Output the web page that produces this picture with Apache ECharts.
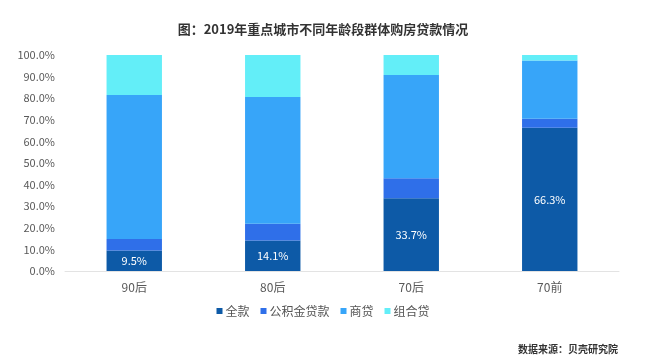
<!DOCTYPE html>
<html>
<head>
<meta charset="utf-8">
<script src="https://cdn.jsdelivr.net/npm/echarts@6/dist/echarts.min.js"></script>
<style>
html,body{margin:0;padding:0;background:#fff;}
#c{width:646px;height:364px;}
</style>
</head>
<body>
<div id="c"></div>
<script>
const categories = ['90后', '80后', '70后', '70前'];
const fullPay = [9.5, 14.1, 33.7, 66.3];
const fundLoan = [5.3, 7.8, 9.2, 4.2];
const bizLoan = [66.7, 58.7, 47.8, 27.0];
const comboLoan = [18.5, 19.4, 9.3, 2.5];
const seriesNames = ['全款', '公积金贷款', '商贷', '组合贷'];
const yTicks = [0, 10, 20, 30, 40, 50, 60, 70, 80, 90, 100];

const colors = ['#0D5AA7', '#2F6FE9', '#37A5F9', '#63EEF8'];
const chart = echarts.init(document.getElementById('c'), null, {renderer: 'canvas'});
const font = '"Noto Sans CJK SC", "Noto Sans", sans-serif';
const dataSets = [fullPay, fundLoan, bizLoan, comboLoan];

chart.setOption({
  animation: false,
  color: colors,
  textStyle: {fontFamily: font},
  title: {
    text: '图：2019年重点城市不同年龄段群体购房贷款情况',
    left: 'center',
    top: 18,
    textStyle: {fontSize: 13, fontWeight: 'bold', color: '#333', fontFamily: font}
  },
  graphic: [{
    type: 'text',
    right: 28,
    top: 344,
    style: {text: '数据来源：贝壳研究院', fontSize: 10, fontWeight: 'bold', fill: '#333', fontFamily: font}
  }],
  legend: {
    data: seriesNames,
    left: 'center',
    top: 300,
    itemWidth: 6,
    itemHeight: 6,
    itemGap: 11,
    icon: 'rect',
    textStyle: {fontSize: 12, color: '#555', padding: [0, 0, 0, -2]}
  },
  grid: {left: 65, right: 27, top: 55, bottom: 93},
  xAxis: {
    type: 'category',
    data: categories,
    axisLine: {lineStyle: {color: '#e3e3e3', width: 1}},
    axisTick: {show: false},
    axisLabel: {fontSize: 12, color: '#595959', margin: 10}
  },
  yAxis: {
    type: 'value',
    min: 0,
    max: 100,
    interval: 10,
    axisLine: {show: false},
    axisTick: {show: false},
    splitLine: {show: false},
    axisLabel: {
      fontSize: 11,
      color: '#595959',
      margin: 10,
      formatter: v => yTicks.includes(v) ? v.toFixed(1) + '%' : ''
    }
  },
  series: seriesNames.map((name, i) => ({
    name: name,
    type: 'bar',
    stack: 'total',
    barWidth: '40%',
    data: dataSets[i],
    itemStyle: {color: colors[i]},
    label: i === 0 ? {
      show: true,
      position: 'inside',
      color: '#fff',
      fontSize: 11,
      formatter: p => p.value.toFixed(1) + '%'
    } : {show: false}
  }))
});
</script>
</body>
</html>
